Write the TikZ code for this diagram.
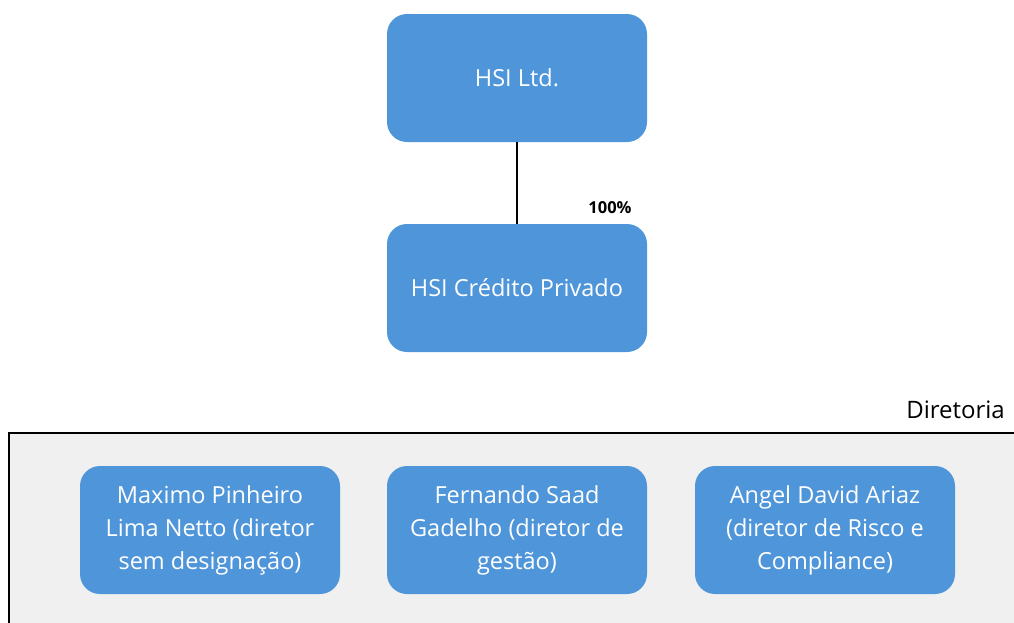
\documentclass[tikz,border=0pt]{standalone}
\usepackage{fontspec}
\setmainfont{Open Sans}
\usepackage{tikz}
\definecolor{boxblue}{HTML}{4F95D9}
\definecolor{panelgray}{HTML}{F0F0F0}

\begin{document}
\begin{tikzpicture}[x=1pt,y=-1pt,%
% common options for blocks:
block/.style = {rounded corners=20pt, fill=boxblue, text=white, align=center,
            minimum width=260pt, minimum height=128pt, inner sep=0,
            font=\fontsize{23.5}{33}\selectfont},
% common options for the labels:
tag/.style = {inner sep=0, align=center}]
\useasboundingbox (0,0) rectangle (1014,622);
\clip (0,0) rectangle (1014,622);
% panel of the board
\fill[panelgray] (9,433) rectangle (1030,640);
\draw[line width=1.8pt] (1030,433) -- (9,433) -- (9,640);
\node[block] (A0) at (517,78) {HSI Ltd.};
\node[block] (A1) at (517,288) {HSI Crédito Privado};
\node[block] (B1) at (210,530) {Maximo Pinheiro\\Lima Netto (diretor\\sem designação)};
\node[block] (B2) at (517,530) {Fernando Saad\\Gadelho (diretor de\\gestão)};
\node[block] (B3) at (825,530) {Angel David Ariaz\\(diretor de Risco e\\Compliance)};
\node[tag, font=\bfseries\fontsize{16.5}{18}\selectfont] (P0) at (610,208) {100\%};
\node[tag, anchor=east, font=\fontsize{24}{26}\selectfont] (D0) at (1005,410) {Diretoria};
\draw[line width=1.5pt] (A0.south) to (A1.north);
\end{tikzpicture}
\end{document}
